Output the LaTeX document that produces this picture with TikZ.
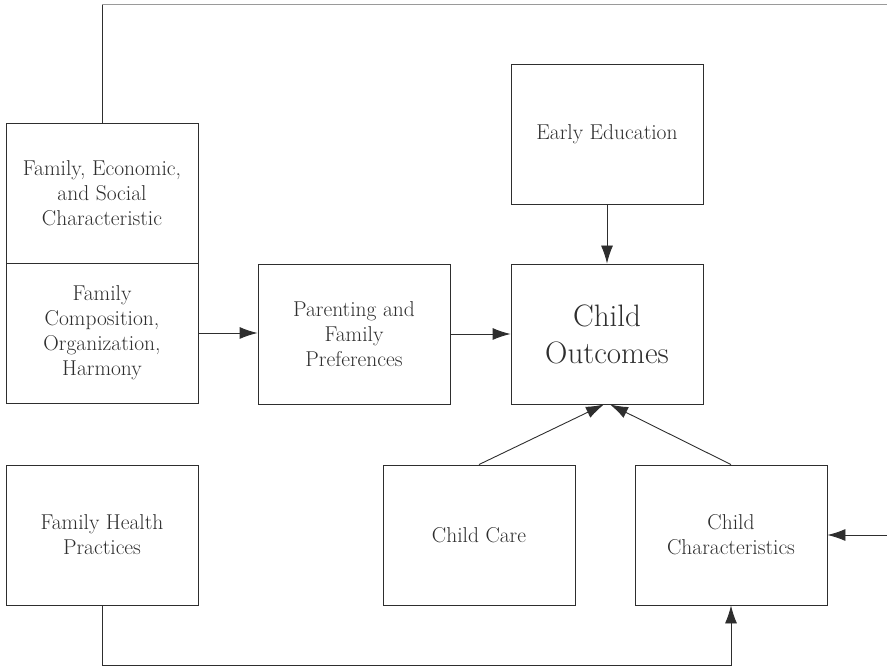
\documentclass[tikz,border=0pt]{standalone}
\usetikzlibrary{arrows.meta,calc}
\definecolor{ink}{HTML}{2E2E2E}
\definecolor{rule}{HTML}{9A9A9A}
\begin{document}
\begin{tikzpicture}[x=1pt,y=-1pt,
  box/.style={draw=ink,line width=0.9pt,rectangle,inner sep=0pt,
    minimum width=192pt,minimum height=140pt,align=center,text=ink,
    font=\fontsize{21.5}{25}\selectfont},
  bigbox/.style={box,font=\fontsize{31}{37}\selectfont},
  link/.style={draw=ink,line width=0.9pt,-{Latex[length=18pt,width=12pt]}},
  plain/.style={draw=ink,line width=0.9pt}]
\useasboundingbox (0,0) rectangle (887,668);

% boxes
\node[box] (econ) at (102,193) {Family, Economic,\\and Social\\Characteristic};
\node[box] (comp) at (102,333) {Family\\Composition,\\Organization,\\Harmony};
\node[box] (par)  at (354,334) {Parenting and\\Family\\Preferences};
\node[bigbox] (out) at (607,334) {Child\\Outcomes};
\node[box] (edu)  at (607,134) {Early Education};
\node[box] (health) at (102,535) {Family Health\\Practices};
\node[box] (care) at (479,535) {Child Care};
\node[box] (chr)  at (731,535) {Child\\Characteristics};

% free ends of the open connectors
\coordinate (topcorner) at (102,4);
\coordinate (topend) at (887,4);
\coordinate (rightend) at (887,535);
\coordinate (bottomrun) at (102,665);

% connectors
\draw[link] (comp.east) -- (comp.east -| par.west);
\draw[link] (par.east) -- (out.west);
\draw[link] (edu.south) -- (out.north);
\draw[link] (care.north) -- ($(out.south)+(-3,0)$);
\draw[link] (chr.north) -- ($(out.south)+(3,0)$);
\draw[link] (rightend) -- (chr.east);
\draw[link] (health.south) -- (bottomrun) -| (chr.south);
\draw[plain] (econ.north) -- (topcorner);
\draw[draw=rule,line width=0.9pt] (topcorner) -- (topend);
\end{tikzpicture}
\end{document}
